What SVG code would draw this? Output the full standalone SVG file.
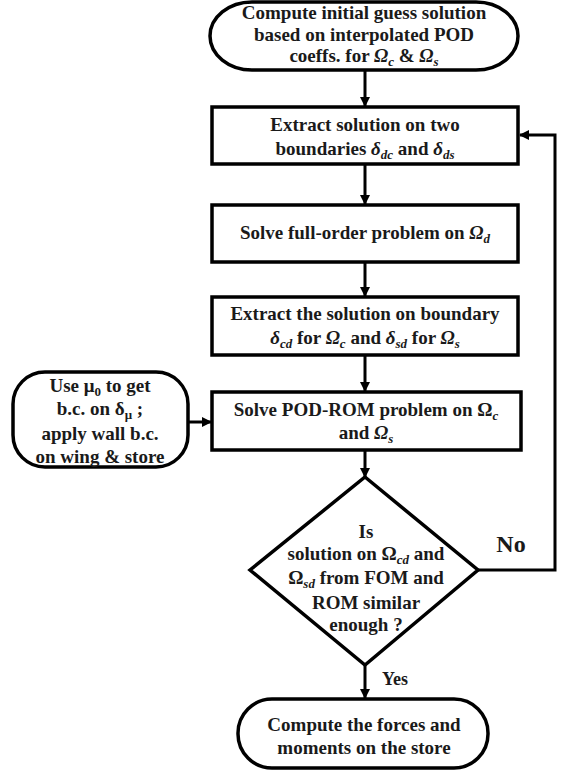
<svg xmlns="http://www.w3.org/2000/svg" width="564" height="773" viewBox="0 0 564 773">
<defs>
<marker id="ah" markerWidth="10" markerHeight="10" refX="9" refY="5" orient="auto" markerUnits="userSpaceOnUse">
<path d="M0,0 L10,5 L0,10 Z" fill="#000"/>
</marker>
<style>
.shape{fill:#fff;stroke:#000;stroke-width:3.5}
.t{font-family:'Liberation Serif','Times New Roman',serif;font-weight:700;font-size:19px;fill:#1a1a1a;text-anchor:middle}
.i{font-style:italic}
.s{font-style:italic;font-size:13px}
.c{fill:none;stroke:#000;stroke-width:3}
</style>
</defs>
<rect width="564" height="773" fill="#fff"/>
<g id="connectors">
<line class="c" x1="365" y1="71" x2="365" y2="106" marker-end="url(#ah)"/>
<line class="c" x1="365" y1="165" x2="365" y2="204" marker-end="url(#ah)"/>
<line class="c" x1="365" y1="263" x2="365" y2="296" marker-end="url(#ah)"/>
<line class="c" x1="365" y1="356" x2="365" y2="391" marker-end="url(#ah)"/>
<line class="c" x1="365" y1="451" x2="365" y2="477" marker-end="url(#ah)"/>
<line class="c" x1="365" y1="665" x2="365" y2="698" marker-end="url(#ah)"/>
<line class="c" x1="189" y1="422" x2="211" y2="422" marker-end="url(#ah)"/>
<polyline class="c" points="478,570 555,570 555,135 520,135" marker-end="url(#ah)"/>
<text class="t" x="511" y="552" style="font-size:24px">No</text>
<text class="t" x="395" y="685" style="font-size:18px">Yes</text>
</g>
<g id="start">
<rect class="shape" x="210" y="2" width="308" height="68" rx="42" ry="34"/>
<text class="t" x="364" y="19">Compute initial guess solution</text>
<text class="t" x="364" y="41">based on interpolated POD</text>
<text class="t" x="364" y="62">coeffs. for <tspan class="i">Ω</tspan><tspan class="s" dy="4">c</tspan><tspan dy="-4"> &amp; </tspan><tspan class="i">Ω</tspan><tspan class="s" dy="4">s</tspan></text>
</g>
<g id="extract1">
<rect class="shape" x="212" y="107" width="306" height="57"/>
<text class="t" x="365" y="131">Extract solution on two</text>
<text class="t" x="365" y="155">boundaries <tspan class="i">δ</tspan><tspan class="s" dy="4">dc</tspan><tspan dy="-4"> and </tspan><tspan class="i">δ</tspan><tspan class="s" dy="4">ds</tspan></text>
</g>
<g id="fullorder">
<rect class="shape" x="212" y="205" width="306" height="57"/>
<text class="t" x="365" y="239">Solve full-order problem on <tspan class="i">Ω</tspan><tspan class="s" dy="4">d</tspan></text>
</g>
<g id="extract2">
<rect class="shape" x="212" y="297" width="306" height="58"/>
<text class="t" x="365" y="320">Extract the solution on boundary</text>
<text class="t" x="365" y="344"><tspan class="i">δ</tspan><tspan class="s" dy="4">cd</tspan><tspan dy="-4"> for </tspan><tspan class="i">Ω</tspan><tspan class="s" dy="4">c</tspan><tspan dy="-4"> and </tspan><tspan class="i">δ</tspan><tspan class="s" dy="4">sd</tspan><tspan dy="-4"> for </tspan><tspan class="i">Ω</tspan><tspan class="s" dy="4">s</tspan></text>
</g>
<g id="podrom">
<rect class="shape" x="212" y="392" width="309" height="58"/>
<text class="t" x="366" y="416">Solve POD-ROM problem on Ω<tspan class="s" dy="4">c</tspan></text>
<text class="t" x="366" y="439">and <tspan class="i">Ω</tspan><tspan class="s" dy="4">s</tspan></text>
</g>
<g id="bc">
<rect class="shape" x="13" y="372" width="175" height="95" rx="32" ry="32"/>
<text class="t" x="100" y="392">Use  μ<tspan style="font-size:13px" dy="4">0</tspan><tspan dy="-4"> to get</tspan></text>
<text class="t" x="100" y="415">b.c. on δ<tspan style="font-size:13px" dy="4">μ</tspan><tspan dy="-4"> ;</tspan></text>
<text class="t" x="100" y="440">apply wall b.c.</text>
<text class="t" x="100" y="463">on wing &amp; store</text>
</g>
<g id="decision">
<polygon class="shape" points="365,477 478,570 365,665 250,570"/>
<text class="t" x="366" y="538">Is</text>
<text class="t" x="366" y="560">solution on Ω<tspan class="s" dy="4">cd</tspan><tspan dy="-4"> and</tspan></text>
<text class="t" x="366" y="584">Ω<tspan class="s" dy="4">sd</tspan><tspan dy="-4"> from FOM and</tspan></text>
<text class="t" x="366" y="609">ROM similar</text>
<text class="t" x="366" y="631">enough ?</text>
</g>
<g id="end">
<rect class="shape" x="238" y="699" width="250" height="69" rx="34" ry="34"/>
<text class="t" x="364" y="731">Compute the forces and</text>
<text class="t" x="364" y="754">moments on the store</text>
</g>
</svg>
